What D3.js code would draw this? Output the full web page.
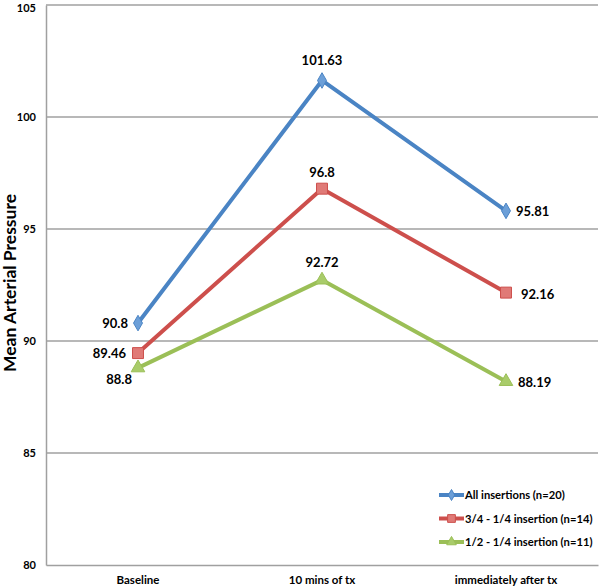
<!DOCTYPE html>
<html>
<head>
<meta charset="utf-8">
<script src="https://cdn.jsdelivr.net/npm/d3@7"></script>
<style>
  html, body { margin: 0; padding: 0; background: #fff; }
  svg text { font-family: Lato, "Open Sans", sans-serif; font-weight: bold; }
</style>
</head>
<body>
<div id="chart"></div>
<script>
const categories = ["Baseline", "10 mins of tx", "immediately after tx"];
const seriesNames = ["All insertions (n=20)", "3/4 - 1/4 insertion (n=14)", "1/2 - 1/4 insertion (n=11)"];
const allInsertions = [90.8, 101.63, 95.81];
const threeQuarter = [89.46, 96.8, 92.16];
const halfQuarter = [88.8, 92.72, 88.19];
const yTicks = [80, 85, 90, 95, 100, 105];
const yLabel = "Mean Arterial Pressure";

const W = 600, H = 588;
const margin = { left: 46, right: 2, top: 5, bottom: 23 };

const svg = d3.select("#chart").append("svg").attr("width", W).attr("height", H);

const x = d3.scaleBand().domain(categories).range([margin.left, W - margin.right]);
const y = d3.scaleLinear().domain([80, 105]).range([H - margin.bottom, margin.top]);

// gridlines
svg.append("g").selectAll("line").data(yTicks.filter(t => t > 80)).join("line")
  .attr("x1", margin.left).attr("x2", W - margin.right)
  .attr("y1", d => y(d)).attr("y2", d => y(d))
  .attr("stroke", "#a0a0a0").attr("stroke-width", 1.5);

// axes
const yAxis = svg.append("g").attr("transform", `translate(${margin.left},0)`)
  .call(d3.axisLeft(y).tickValues(yTicks).tickSize(0).tickPadding(10));
yAxis.select(".domain").attr("stroke", "#a0a0a0").attr("stroke-width", 1.5);
yAxis.selectAll("text").attr("font-size", 11).attr("fill", "#000")
  .attr("dy", d => d === 105 ? "0.62em" : "0.32em");

const xAxis = svg.append("g").attr("transform", `translate(0,${H - margin.bottom})`)
  .call(d3.axisBottom(x).tickSize(0).tickPadding(11));
xAxis.select(".domain").attr("stroke", "#a0a0a0").attr("stroke-width", 1.5);
xAxis.selectAll("text").attr("font-size", 11.5).attr("fill", "#000");

svg.append("text")
  .attr("transform", `translate(16,${283}) rotate(-90)`)
  .attr("text-anchor", "middle")
  .attr("font-size", 17.5)
  .attr("fill", "#000")
  .text(yLabel);

const series = [
  { name: seriesNames[0], values: allInsertions, color: "#4a84c4", fill: "#6c9fd8", marker: d3.symbolDiamond, size: 70,
    labelPos: [["end", -10, 5], ["middle", 0, -15], ["start", 10, 5]] },
  { name: seriesNames[1], values: threeQuarter, color: "#cd4f4c", fill: "#e07a77", marker: d3.symbolSquare, size: 120,
    labelPos: [["end", -12, 5], ["middle", 0, -12], ["start", 15, 6]] },
  { name: seriesNames[2], values: halfQuarter, color: "#9bbf57", fill: "#a9cc6a", marker: d3.symbolTriangle, size: 80,
    labelPos: [["end", -6, 16], ["middle", 0, -13], ["start", 12, 5]] }
];

const line = d3.line().x((d, i) => x(categories[i]) + x.bandwidth() / 2).y(d => y(d));

series.forEach(s => {
  const g = svg.append("g");
  g.append("path").datum(s.values).attr("d", line)
    .attr("fill", "none").attr("stroke", s.color).attr("stroke-width", 4)
    .attr("stroke-linejoin", "round");
  g.selectAll("path.m").data(s.values).join("path").attr("class", "m")
    .attr("transform", (d, i) => `translate(${x(categories[i]) + x.bandwidth() / 2},${y(d)})`)
    .attr("d", d3.symbol().type(s.marker).size(s.size))
    .attr("fill", s.fill).attr("stroke", s.color).attr("stroke-width", 1);
  g.selectAll("text").data(s.values).join("text")
    .attr("x", (d, i) => x(categories[i]) + x.bandwidth() / 2 + s.labelPos[i][1])
    .attr("y", (d, i) => y(d) + s.labelPos[i][2])
    .attr("text-anchor", (d, i) => s.labelPos[i][0])
    .attr("font-size", 13).attr("fill", "#000")
    .text(d => d);
});

// legend
const legend = svg.append("g");
series.forEach((s, i) => {
  const ly = 495 + i * 23.5;
  legend.append("line").attr("x1", 439).attr("x2", 464).attr("y1", ly).attr("y2", ly)
    .attr("stroke", s.color).attr("stroke-width", 4);
  legend.append("path").attr("transform", `translate(451.5,${ly})`)
    .attr("d", d3.symbol().type(s.marker).size(s.size * 0.5))
    .attr("fill", s.fill).attr("stroke", s.color).attr("stroke-width", 1);
  legend.append("text").attr("x", 465).attr("y", ly + 4).attr("font-size", 11.2).attr("fill", "#000")
    .text(s.name);
});
</script>
</body>
</html>
